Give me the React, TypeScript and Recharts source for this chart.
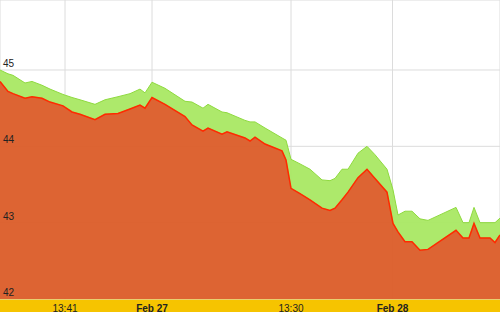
import { Area, AreaChart, CartesianGrid, XAxis, YAxis } from "recharts"

// sample position (5 px per step in the source image's time scale)
const steps = [
  0, 1.6, 2.6, 5, 6.4, 8.4, 10, 12.6, 14.4, 16, 19, 21, 23.6, 26, 28, 29, 30.4, 33, 37, 38.4,
  40.6, 41.6, 44.4, 45.4, 49, 50, 51, 53, 56.4, 57.2, 58.2, 60, 62, 64.4, 66, 67, 68.4, 69.6,
  71.6, 73.4, 75, 77.4, 78.6, 79.6, 81, 82.4, 84, 85.6, 91.2, 92.6, 93.8, 94.8, 96, 98, 99, 100,
]

const high = [
  45.0, 44.95, 44.93, 44.83, 44.85, 44.8, 44.75, 44.68, 44.64, 44.61, 44.55, 44.61, 44.65, 44.69,
  44.75, 44.7, 44.84, 44.76, 44.59, 44.58, 44.5, 44.55, 44.45, 44.44, 44.34, 44.32, 44.32, 44.24,
  44.11, 44.08, 43.83, 43.77, 43.7, 43.56, 43.55, 43.58, 43.7, 43.7, 43.91, 44.0, 43.89, 43.7,
  43.43, 43.1, 43.15, 43.15, 43.05, 43.03, 43.2, 43.0, 43.0, 43.2, 43.0, 43.0, 43.0, 43.06,
]

const low = [
  44.85, 44.72, 44.69, 44.63, 44.65, 44.63, 44.58, 44.53, 44.45, 44.42, 44.35, 44.42, 44.43, 44.49,
  44.54, 44.5, 44.64, 44.55, 44.39, 44.28, 44.2, 44.24, 44.16, 44.19, 44.11, 44.07, 44.12, 44.03,
  43.94, 43.82, 43.45, 43.38, 43.3, 43.19, 43.16, 43.19, 43.3, 43.4, 43.59, 43.7, 43.58, 43.4,
  42.99, 42.88, 42.75, 42.75, 42.64, 42.65, 42.9, 42.8, 42.8, 42.99, 42.8, 42.8, 42.74, 42.84,
]

const xTicks = [13, 30.4, 58.2, 78.5]
const xLabels = ["13:41", "Feb 27", "13:30", "Feb 28"]
const yTicks = [42, 43, 44, 45]

const data = steps.map((t, i) => ({ t, high: high[i], low: low[i] }))

const font = "Liberation Sans, Arial, sans-serif"

const XTick = (props: any) => {
  const { x, index } = props
  const label = xLabels[index]
  const bold = label.startsWith("Feb")
  return (
    <text
      x={x}
      y={311.5}
      textAnchor="middle"
      fontSize={10}
      fontWeight={bold ? "bold" : "normal"}
      fill="#222"
      fontFamily={font}
    >
      {label}
    </text>
  )
}

const YTick = (props: any) => {
  const { y, payload } = props
  return (
    <text x={3} y={y - 3} fontSize={10} fill="#222" fontFamily={font}>
      {payload.value}
    </text>
  )
}

export default function App() {
  return (
    <div style={{ position: "fixed", left: 0, top: 0, width: 500, height: 312, background: "#fff" }}>
      <div style={{ position: "absolute", left: 0, top: 299, width: 500, height: 13, background: "#f6c400" }} />
      <div style={{ position: "absolute", left: 0, top: 0 }}>
        <AreaChart width={500} height={312} data={data} margin={{ top: 0, right: 0, left: 0, bottom: 0 }}>
          <CartesianGrid stroke="#dcdcdc" />
          <XAxis
            type="number"
            dataKey="t"
            domain={[0, 100]}
            ticks={xTicks}
            height={13}
            axisLine={false}
            tickLine={false}
            tick={<XTick />}
            interval={0}
          />
          <YAxis
            type="number"
            domain={[42, 45.917]}
            ticks={yTicks}
            width={30}
            mirror
            axisLine={false}
            tickLine={false}
            tick={<YTick />}
            interval={0}
            allowDataOverflow
          />
          <Area
            dataKey={(d: any) => [d.low, d.high]}
            type="linear"
            stroke="#8fda3f"
            strokeWidth={1}
            fill="#a8e862"
            fillOpacity={0.94}
            dot={false}
            activeDot={false}
            isAnimationActive={false}
          />
          <Area
            dataKey="low"
            type="linear"
            stroke="#ff2a00"
            strokeWidth={1.5}
            fill="#dc5e2b"
            fillOpacity={0.96}
            dot={false}
            activeDot={false}
            isAnimationActive={false}
          />
        </AreaChart>
      </div>
    </div>
  )
}
